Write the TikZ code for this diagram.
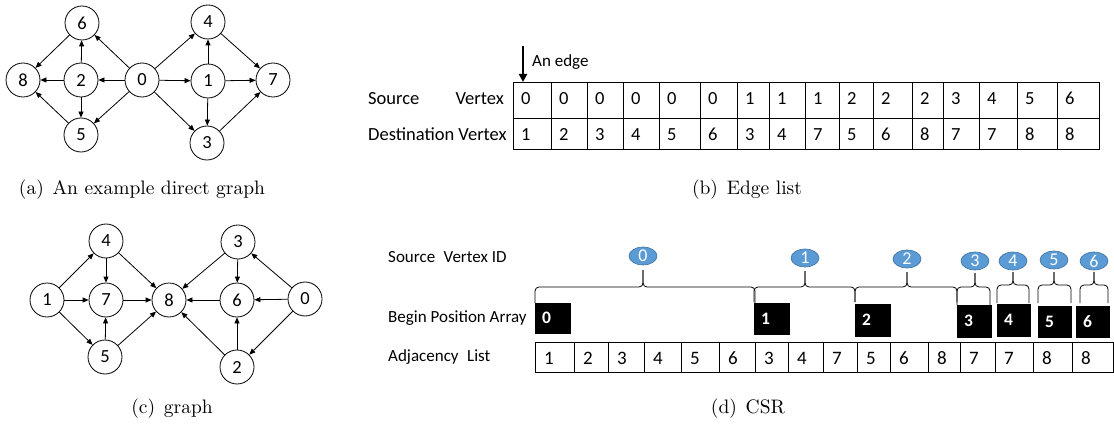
\documentclass[tikz,border=0pt]{standalone}
\usepackage{fontspec}
\usepackage{graphicx}
\newfontfamily\carl{Carlito}
\usetikzlibrary{arrows.meta,shapes.geometric}
\definecolor{nodeblue}{HTML}{5B9BD5}
\definecolor{nodeedge}{HTML}{41719C}
% sub-figure captions: 10pt design size, enlarged
\newcommand{\subcap}[1]{\scalebox{1.95}{\fontsize{10}{12}\selectfont #1}}
\begin{document}
\begin{tikzpicture}[x=1pt,y=-1pt,
  vtx/.style={circle,draw,line width=0.8pt,minimum size=34pt,inner sep=0pt,
    font=\carl\fontsize{18.5}{18.5}\selectfont},
  arc/.style={-{Triangle[length=6pt,width=5pt]},line width=0.8pt},
  capt/.style={anchor=base,inner sep=0pt},
  lbl/.style={font=\carl\fontsize{17}{17}\selectfont,anchor=base west,inner sep=0pt},
  elbl/.style={font=\carl\fontsize{18.5}{18.5}\selectfont,anchor=base west,inner sep=0pt},
  num/.style={font=\carl\fontsize{18.5}{18.5}\selectfont,anchor=base west,inner sep=0pt},
  anum/.style={font=\carl\fontsize{19}{19}\selectfont,anchor=base west,inner sep=0pt},
  cellline/.style={draw,line width=0.7pt},
  blk/.style={fill=black,draw=black,inner sep=0pt,anchor=north west},
  blknum/.style={font=\carl\bfseries\fontsize{17.5}{17.5}\selectfont,text=white,anchor=west,inner sep=0pt},
  bubble/.style={ellipse,fill=nodeblue,draw=nodeedge,line width=0.6pt,minimum width=28pt,
    minimum height=18pt,inner sep=0pt,text=white,font=\carl\fontsize{18}{18}\selectfont},
  brc/.style={line width=0.8pt,rounded corners=4pt}
]
\useasboundingbox (0,0) rectangle (1114,425);

% ---------- (a) directed graph ----------
\foreach \n/\x/\y in {6/82/23, 8/23/80, 2/81/80, 5/81/135, 0/142/80,
                      4/208/22, 1/208/81, 3/207/143, 7/273/80}
  \node[vtx] (a\n) at (\x,\y) {\n};
\foreach \s/\t in {0/6,0/2,0/5,0/4,0/1,0/3,2/6,2/8,2/5,6/8,5/8,1/4,1/7,1/3,4/7,3/7}
  \draw[arc] (a\s) -- (a\t);
\node[capt] (capa) at (142,194) {\subcap{(a)\hspace{0.45em}An example direct graph}};

% ---------- (c) graph ----------
\foreach \n/\x/\y in {4/106/241, 1/47/300, 7/106/300, 5/105/357, 8/169/300,
                      3/238/242, 6/237/300, 0/305/299, 2/237/367}
  \node[vtx] (c\n) at (\x,\y) {\n};
\foreach \s/\t in {1/4,1/7,1/5,4/7,4/8,7/8,5/7,5/8,3/8,3/6,6/8,0/3,0/6,0/2,2/6,2/8}
  \draw[arc] (c\s) -- (c\t);
\node[capt] (capc) at (172,413) {\subcap{(c)\hspace{0.45em}graph}};

% ---------- (b) edge list ----------
\node[elbl] (srcw) at (368,105) {Source};
\node[elbl,anchor=base east] (srcv) at (504,105) {Vertex};
\node[elbl] (dstw) at (368,141) {Destination Vertex};
\foreach \l/\r/\s/\d [count=\k] in {513/551/0/1, 551/587/0/2, 587/623/0/3, 623/659/0/4,
    659/700/0/5, 700/737/0/6, 737/769/1/3, 769/805/1/4, 805/839/1/7, 839/873/2/5,
    873/912/2/6, 912/943/2/8, 943/979/3/7, 979/1017/4/7, 1017/1057/5/8, 1057/1099/6/8} {
  \draw[cellline] (\l,82) rectangle (\r,118);
  \draw[cellline] (\l,118) rectangle (\r,149);
  \node[num] (s\k) at ({\l+8},105) {\s};
  \node[num] (d\k) at ({\l+8},141) {\d};
}
\coordinate (edgetail) at (523,46);
\coordinate (edgehead) at (523,82);
\draw[-{Triangle[length=8pt,width=8pt]},line width=2.2pt] (edgetail) -- (edgehead);
\node[lbl] (anedge) at (532,67) {An edge};
\node[capt] (capb) at (747,194) {\subcap{(b)\hspace{0.45em}Edge list}};

% ---------- (d) CSR ----------
\node[lbl] (svid) at (388,262) {Source\hspace{0.5em}Vertex ID};
\node[lbl] (bpa) at (388,322) {Begin Position Array};
\node[lbl] (adjl) at (388,361) {Adjacency\hspace{0.5em}List};

\foreach \l/\r/\v [count=\k] in {535/574/1, 574/608/2, 608/644/3, 644/681/4, 681/719/5,
    719/755/6, 755/788/3, 788/823/4, 823/857/7, 857/890/5, 890/928/6, 928/960/8,
    960/995/7, 995/1033/7, 1033/1072/8, 1072/1113/8} {
  \draw[cellline] (\l,342) rectangle (\r,372);
  \node[anum] (adj\k) at ({\l+9},364) {\v};
}

% begin positions
\foreach \n/\x/\y/\w/\h in {0/535/303/35/30, 1/754/303/35/31, 2/855/304/35/32,
    3/957/305/34/32, 4/997/304/33/32, 5/1038/306/33/31, 6/1076/306/33/31} {
  \node[blk,minimum width=\w pt,minimum height=\h pt] (p\n) at (\x,\y) {};
  \node[blknum] (pt\n) at ([xshift=7pt]p\n.west) {\n};
}

% vertex id bubbles and their braces
\foreach \n/\x/\y in {0/643/256, 1/805/258, 2/907/259, 3/975/261, 4/1013/261,
    5/1054/260, 6/1094/261}
  \node[bubble] (v\n) at (\x,\y) {\n};
\foreach \l/\r/\m/\t/\b/\p in {535/755/643/287/303/270, 754/855/805/287/302/271,
    855/957/907/287/302/272, 957/990/975/287/305/273, 997/1029/1013/285/303/272,
    1038/1071/1054/285/303/272, 1080/1108/1094/285/303/272} {
  \draw[brc] (\l,\b) -- (\l,\t) -- (\m,\t) -- (\m,\p);
  \draw[brc] (\r,\b) -- (\r,\t) -- (\m,\t) -- (\m,\p);
}
\node[capt] (capd) at (748,413) {\subcap{(d)\hspace{0.45em}CSR}};
\end{tikzpicture}
\end{document}
